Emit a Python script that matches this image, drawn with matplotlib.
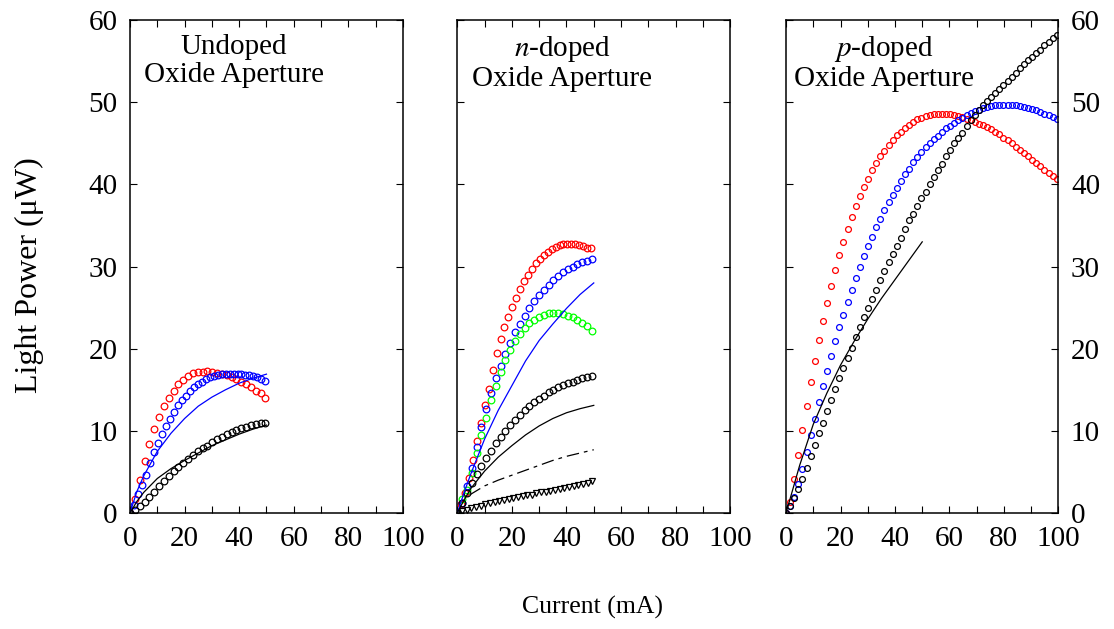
import numpy as np
import matplotlib
matplotlib.use("Agg")
import matplotlib.pyplot as plt

plt.rcParams['font.family'] = ['Liberation Serif', 'DejaVu Serif']
plt.rcParams['mathtext.fontset'] = 'stix'

# ---- undoped oxide aperture ----
und_red = [0, 1.7, 4.0, 6.3, 8.4, 10.2, 11.7, 13.0, 14.0, 14.9, 15.7, 16.2, 16.7, 17.0, 17.2,
           17.2, 17.3, 17.2, 17.1, 16.9, 16.8, 16.5, 16.3, 15.9, 15.7, 15.3, 14.9, 14.6, 14.0]
und_blue = [0, 1.0, 2.3, 3.4, 4.6, 6.1, 7.4, 8.5, 9.6, 10.6, 11.5, 12.3, 13.1, 13.8, 14.3, 14.9,
            15.3, 15.7, 16.0, 16.3, 16.5, 16.7, 16.8, 16.9, 16.9, 16.9, 16.9, 16.9, 16.9, 16.8,
            16.8, 16.7, 16.5, 16.3, 16.1]
und_black = [0, 0.4, 0.8, 1.3, 1.9, 2.5, 3.3, 3.9, 4.5, 5.1, 5.6, 6.1, 6.6, 7.1, 7.5, 7.9, 8.2,
             8.6, 9.0, 9.3, 9.6, 9.9, 10.1, 10.3, 10.5, 10.7, 10.8, 10.9, 11.0]
line_i = [0, 2.5, 5, 10, 15, 20, 25, 30, 35, 40, 45, 50]
und_blue_fit = [0, 2.6, 4.5, 7.5, 9.7, 11.5, 13.0, 14.1, 15.0, 15.8, 16.4, 16.9]
und_black_fit = [0, 1.4, 2.5, 4.2, 5.4, 6.4, 7.3, 8.2, 8.9, 9.6, 10.2, 10.7]

# ---- n-doped oxide aperture ----
n_red = [0, 1.1, 2.4, 4.3, 6.5, 8.8, 10.9, 13.2, 15.1, 17.4, 19.5, 21.2, 22.6, 23.9, 25.1, 26.2,
         27.3, 28.2, 29.0, 29.7, 30.4, 30.9, 31.4, 31.8, 32.1, 32.4, 32.6, 32.7, 32.7, 32.7,
         32.7, 32.6, 32.5, 32.3, 32.2]
n_blue = [0, 1.2, 3.3, 5.5, 8.0, 10.5, 12.7, 14.6, 16.4, 17.9, 19.4, 20.7, 22.0, 23.0, 24.0,
          24.9, 25.8, 26.5, 27.2, 27.8, 28.3, 28.9, 29.3, 29.7, 30.0, 30.3, 30.5, 30.7, 30.9]
n_green = [0, 1.7, 2.8, 4.9, 7.3, 9.5, 11.6, 13.8, 15.5, 17.2, 18.6, 19.8, 20.9, 21.8, 22.5,
           23.1, 23.5, 23.8, 24.1, 24.3, 24.3, 24.3, 24.2, 24.0, 23.8, 23.5, 23.1, 22.7, 22.2]
n_black = [0, 1.2, 2.4, 3.6, 4.7, 5.7, 6.7, 7.6, 8.5, 9.3, 10.0, 10.7, 11.3, 11.9, 12.5, 13.0,
           13.5, 13.9, 14.3, 14.7, 15.0, 15.3, 15.6, 15.8, 16.0, 16.2, 16.4, 16.6, 16.7]
n_tri = [0, 0.2, 0.4, 0.6, 0.75, 0.9, 1.05, 1.2, 1.3, 1.45, 1.55, 1.7, 1.8, 1.9, 2.05, 2.15,
         2.25, 2.4, 2.5, 2.6, 2.7, 2.85, 2.95, 3.05, 3.15, 3.3, 3.4, 3.55, 3.7, 3.9]
n_blue_fit = [0, 2.5, 4.8, 9.0, 12.5, 15.5, 18.5, 21.0, 23.0, 24.9, 26.6, 28.0]
n_black_fit = [0, 1.6, 3.0, 5.1, 6.8, 8.2, 9.5, 10.6, 11.5, 12.2, 12.7, 13.1]
dash_i = [4.5, 10, 15, 20, 25, 30, 35, 40, 45, 50]
n_dash_fit = [2.2, 3.3, 4.0, 4.6, 5.2, 5.8, 6.4, 6.9, 7.3, 7.7]

# ---- p-doped oxide aperture ----
p_red = [0, 1.4, 4.1, 7.1, 10.1, 13.0, 15.9, 18.5, 21.0, 23.4, 25.6, 27.6, 29.6, 31.4, 33.0,
         34.6, 36.0, 37.4, 38.6, 39.7, 40.7, 41.7, 42.6, 43.4, 44.1, 44.8, 45.4, 46.0, 46.4,
         46.9, 47.2, 47.6, 47.9, 48.1, 48.3, 48.4, 48.5, 48.5, 48.5, 48.5, 48.5, 48.4, 48.3,
         48.2, 48.0, 47.8, 47.6, 47.4, 47.2, 47.0, 46.7, 46.4, 46.1, 45.7, 45.4, 45.0, 44.6,
         44.2, 43.8, 43.4, 43.0, 42.6, 42.2, 41.8, 41.4, 41.0, 40.6]
p_blue = [0, 0.8, 1.9, 3.5, 5.4, 7.4, 9.5, 11.5, 13.5, 15.4, 17.3, 19.1, 20.9, 22.6, 24.1, 25.7,
          27.1, 28.6, 30.0, 31.3, 32.5, 33.6, 34.8, 35.8, 36.9, 37.8, 38.7, 39.6, 40.4, 41.3,
          41.9, 42.7, 43.3, 43.9, 44.5, 45.0, 45.5, 45.9, 46.4, 46.8, 47.1, 47.5, 47.8, 48.1,
          48.4, 48.7, 48.9, 49.1, 49.3, 49.4, 49.5, 49.6, 49.6, 49.6, 49.6, 49.6, 49.6, 49.5,
          49.4, 49.3, 49.2, 49.0, 48.8, 48.6, 48.4, 48.2, 47.9]
p_black = [0, 0.8, 1.8, 2.9, 4.2, 5.5, 6.9, 8.3, 9.7, 11.0, 12.4, 13.8, 15.1, 16.4, 17.7, 18.9,
           20.1, 21.4, 22.6, 23.8, 24.9, 26.0, 27.1, 28.3, 29.4, 30.5, 31.5, 32.5, 33.5, 34.6,
           35.6, 36.4, 37.4, 38.3, 39.1, 40.0, 40.9, 41.7, 42.5, 43.4, 44.2, 45.0, 45.6, 46.3,
           47.1, 47.8, 48.4, 49.0, 49.6, 50.1, 50.6, 51.1, 51.6, 52.1, 52.6, 53.1, 53.6, 54.1,
           54.6, 55.1, 55.5, 56.0, 56.4, 56.9, 57.3, 57.8, 58.2]
p_line_i = [0, 5, 10, 15, 20, 25, 30, 35, 40, 45, 50]
p_black_fit = [0, 5.8, 10.8, 14.6, 18.0, 20.9, 23.6, 26.1, 28.4, 30.7, 33.0]


def grid(vals, end):
    return np.linspace(0, end, len(vals))


fig = plt.figure(figsize=(11.14, 6.29), dpi=100)
bottom, height = 0.1844, 0.7838
ax1 = fig.add_axes([0.1167, bottom, 0.245, height])
ax2 = fig.add_axes([0.4105, bottom, 0.245, height])
ax3 = fig.add_axes([0.7056, bottom, 0.2445, height])

mk = dict(marker='o', ls='none', mfc='none', ms=4.8, mew=0.9)

ax1.plot(grid(und_red, 49.6), und_red, color='red', **mk)
ax1.plot(grid(und_blue, 49.6), und_blue, color='blue', **mk)
ax1.plot(grid(und_black, 49.6), und_black, color='black', **mk)
ax1.plot(line_i, und_blue_fit, color='blue', lw=0.9)
ax1.plot(line_i, und_black_fit, color='black', lw=0.9)

ax2.plot(grid(n_red, 49.0), n_red, color='red', **mk)
ax2.plot(grid(n_blue, 49.3), n_blue, color='blue', **mk)
ax2.plot(grid(n_green, 49.3), n_green, color='#00ff00', **mk)
ax2.plot(grid(n_black, 49.3), n_black, color='black', **mk)
ax2.plot(grid(n_tri, 49.5), n_tri, color='black', marker='v', ls='none', mfc='none', ms=5, mew=0.9)
ax2.plot(line_i, n_blue_fit, color='blue', lw=0.9)
ax2.plot(line_i, n_black_fit, color='black', lw=0.9)
ax2.plot(dash_i, n_dash_fit, color='black', lw=0.9, ls=(0, (10, 4, 3, 4)))

mk3 = dict(mk, ms=4.2)
ax3.plot(grid(p_red, 99.4), p_red, color='red', **mk3)
ax3.plot(grid(p_blue, 99.4), p_blue, color='blue', **mk3)
ax3.plot(grid(p_black, 99.4), p_black, color='black', **mk3)
ax3.plot(p_line_i, p_black_fit, color='black', lw=0.9)

titles = ['Undoped\nOxide Aperture', '$\\mathit{n}$-doped\nOxide Aperture',
          '$\\mathit{p}$-doped\nOxide Aperture']
tx = [0.38, 0.385, 0.36]
for ax, t, x in zip([ax1, ax2, ax3], titles, tx):
    ax.set_xlim(0, 100)
    ax.set_ylim(0, 60)
    ax.set_xticks(range(0, 101, 20))
    ax.set_xticks(range(10, 100, 20), minor=True)
    ax.set_yticks(range(0, 61, 10))
    ax.tick_params(which='both', direction='in', top=True, right=True, length=5, width=0.8,
                   labelsize=21, pad=9)
    for s in ax.spines.values():
        s.set_linewidth(1.1)
    ax.text(x, 0.972, t, transform=ax.transAxes, ha='center', va='top', fontsize=21,
            linespacing=1.12)

ax2.tick_params(labelleft=False)
ax3.tick_params(labelleft=False, labelright=True)

fig.text(0.5323, 0.034, 'Current (mA)', ha='center', va='center', fontsize=18.5)
fig.text(0.026, 0.563, 'Light Power (\u03bcW)', ha='center', va='center', rotation=90,
         fontsize=23)

fig.savefig('out.png', dpi=100)
